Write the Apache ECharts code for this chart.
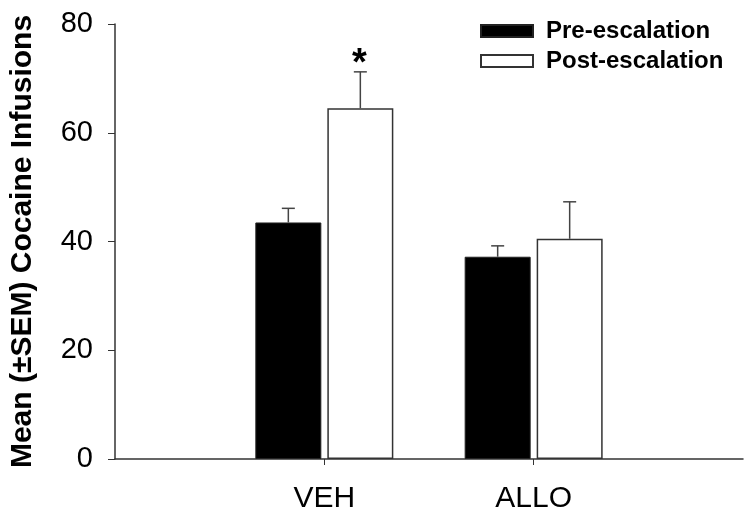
<!DOCTYPE html>
<html>
<head>
<meta charset="utf-8">
<script src="https://cdn.jsdelivr.net/npm/echarts@6/dist/echarts.min.js"></script>
<style>
  html, body { margin: 0; padding: 0; background: #fff; }
  #chart { width: 750px; height: 515px; }
</style>
</head>
<body>
<div id="chart"></div>
<script>
// groups on the x axis (empty ends keep the groups at 1/3 and 2/3 of the axis)
var categories = ["", "VEH", "ALLO", ""];
var preMean = [null, 43.5, 37.2, null];
var preSem = [null, 2.6, 2.0, null];
var postMean = [null, 64.5, 40.5, null];
var postSem = [null, 6.7, 6.8, null];
var postSig = ["", "*", "", ""];
var yTicks = [0, 20, 40, 60, 80];

var FONT = "'Liberation Sans', Arial, sans-serif";
var BAR_W = 66;
var BAR_GAP = 6;

function errData(mean, sem, sig) {
  var out = [];
  mean.forEach(function (m, i) {
    if (m != null) out.push([i, m, sem[i], sig ? sig[i] : ""]);
  });
  return out;
}

function errRender(side) {
  return function (params, api) {
    var top = api.coord([api.value(0), api.value(1) + api.value(2)]);
    var base = api.coord([api.value(0), api.value(1)]);
    var x = base[0] + side * (BAR_W + BAR_GAP) / 2;
    var sig = api.value(3);
    var children = [
      { type: "line", shape: { x1: x, y1: base[1], x2: x, y2: top[1] },
        style: { stroke: "#444", lineWidth: 1.5 } },
      { type: "line", shape: { x1: x - 6.5, y1: top[1], x2: x + 6.5, y2: top[1] },
        style: { stroke: "#444", lineWidth: 1.5 } }
    ];
    if (sig) {
      children.push({ type: "text", x: x - 1, y: top[1] - 26,
        style: { text: sig, fill: "#000", font: "bold 38px " + FONT,
          align: "center", verticalAlign: "alphabetic" } });
    }
    return { type: "group", children: children };
  };
}

var chart = echarts.init(document.getElementById("chart"));
chart.setOption({
  animation: false,
  grid: { left: 114, right: 7, top: 24, bottom: 56 },
  legend: {
    orient: "vertical",
    left: 475,
    top: 14,
    itemWidth: 52,
    itemHeight: 12,
    itemGap: 6,
    icon: "rect",
    textStyle: { fontFamily: FONT, fontWeight: "bold", fontSize: 24, color: "#000",
      padding: [0, 0, 0, 8] },
    data: ["Pre-escalation", "Post-escalation"]
  },
  xAxis: {
    type: "category",
    data: categories,
    boundaryGap: false,
    axisLine: { lineStyle: { color: "#333", width: 1.5 } },
    axisTick: {
      length: 6,
      lineStyle: { color: "#333" },
      interval: function (i, v) { return v !== ""; }
    },
    axisLabel: { fontFamily: FONT, fontSize: 30, color: "#000", margin: 25,
      interval: 0 }
  },
  yAxis: {
    type: "value",
    min: yTicks[0],
    max: yTicks[yTicks.length - 1],
    interval: yTicks[1] - yTicks[0],
    name: "Mean (±SEM) Cocaine Infusions",
    nameLocation: "middle",
    nameGap: 77,
    nameTextStyle: { fontFamily: FONT, fontWeight: "bold", fontSize: 30, color: "#000" },
    axisLine: { show: true, lineStyle: { color: "#333", width: 1.5 } },
    axisTick: { show: true, length: 7, lineStyle: { color: "#333" } },
    axisLabel: { fontFamily: FONT, fontSize: 29, color: "#000", margin: 22 },
    splitLine: { show: false }
  },
  series: [
    {
      name: "Pre-escalation",
      type: "bar",
      barWidth: BAR_W,
      barGap: (BAR_GAP / BAR_W * 100) + "%",
      data: preMean,
      itemStyle: { color: "#000", borderColor: "#222", borderWidth: 1 }
    },
    {
      name: "Post-escalation",
      type: "bar",
      barWidth: BAR_W,
      data: postMean,
      itemStyle: { color: "#fff", borderColor: "#333", borderWidth: 1.5 }
    },
    {
      type: "custom",
      renderItem: errRender(-1),
      data: errData(preMean, preSem),
      z: 3
    },
    {
      type: "custom",
      renderItem: errRender(1),
      data: errData(postMean, postSem, postSig),
      z: 3
    }
  ]
});
</script>
</body>
</html>
